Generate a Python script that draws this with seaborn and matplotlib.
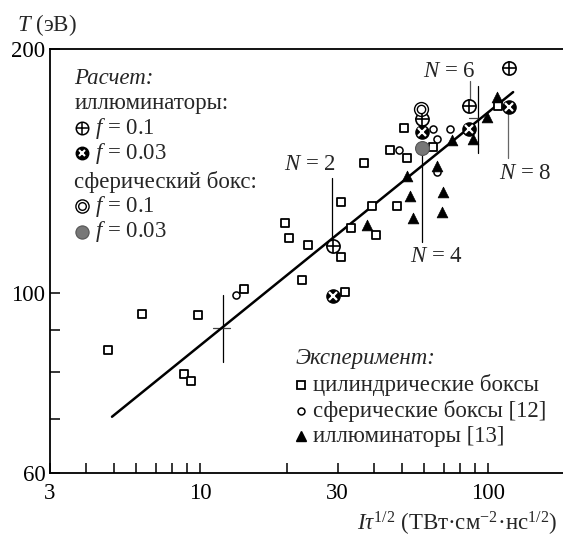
import matplotlib
matplotlib.use("Agg")
import matplotlib.pyplot as plt
import seaborn as sns
import pandas as pd
from matplotlib.ticker import FixedLocator, FixedFormatter, NullFormatter

# ---------------- data ----------------
cyl_x = [4.8, 6.3, 9.8, 8.8, 9.3, 14.2, 19.7, 20.4, 23.7, 22.5, 30.7, 30.7, 31.9,
         33.3, 39.4, 40.6, 37.1, 48.0, 45.7, 52.2, 51.0, 64.3, 108.3]
cyl_y = [85.0, 94.3, 94.1, 79.4, 78.0, 101.2, 122.0, 116.9, 114.7, 103.7, 129.5, 110.7, 100.4,
         120.2, 128.2, 118.1, 144.7, 128.3, 150.4, 146.7, 160.1, 151.4, 170.3]

sph_x = [13.3, 48.8, 64.5, 66.3, 73.8, 66.5]
sph_y = [99.5, 150.4, 159.6, 155.0, 159.6, 141.0]

ill_x = [37.8, 53.3, 54.8, 52.4, 66.2, 69.7, 69.2, 74.7, 88.5, 98.6, 107.5]
ill_y = [121.4, 131.8, 123.7, 139.7, 143.6, 133.5, 125.9, 154.5, 155.0, 164.8, 174.6]

calc_ill_x = [29.0, 58.8, 86.0, 117.5]
calc_ill_f01_y = [114.3, 164.2, 170.0, 189.4]
calc_ill_f003_y = [99.1, 158.0, 159.5, 169.7]

calc_sph_f01_x = [58.6]
calc_sph_f01_y = [168.7]
calc_sph_f003_x = [58.8]
calc_sph_f003_y = [151.0]

fit_x = [4.94, 121.9]
fit_y = [70.4, 177.1]

# N markers
n_lines_x = [28.7, 58.9, 86.3, 117.1]
n_lines_ylo = [114.3, 115.8, 173.5, 146.8]
n_lines_yhi = [138.7, 151.0, 182.7, 167.0]
n_lines_col = ["black", "black", "#555555", "#666666"]
n_labels = ["2", "4", "6", "8"]
n_label_x = [24.1, 66.3, 73.1, 134.6]
n_label_y = [144.1, 110.9, 188.0, 140.7]

# crosses on the fit line
cross_x = [11.95, 92.2]
cross_ylo = [82.2, 148.9]
cross_yhi = [99.4, 180.2]
cross_hy = [90.6, 164.3]
cross_hx0 = [11.1, 86.0]
cross_hx1 = [12.7, 93.3]

x_major = [3, 10, 30, 100]
x_major_labels = ["3", "10", "30", "100"]
x_minor = [4, 5, 6, 7, 8, 9, 20, 40, 50, 60, 70, 80, 90]
y_major = [60, 100, 200]
y_major_labels = ["60", "100", "200"]
y_minor = [70, 80, 90]

# ---------------- style ----------------
sns.set_theme(style="ticks")
plt.rcParams["font.family"] = ["Liberation Serif", "DejaVu Serif"]
plt.rcParams["mathtext.fontset"] = "custom"
plt.rcParams["mathtext.rm"] = "Liberation Serif"
plt.rcParams["mathtext.it"] = "Liberation Serif:italic"
plt.rcParams["mathtext.bf"] = "Liberation Serif:bold"
FS = 16.5

W, H = 563, 539
fig = plt.figure(figsize=(W / 100, H / 100), dpi=100)
fig.patch.set_facecolor("white")
L, R, T, B = 49.6, 563.0, 49.3, 473.0
ax = fig.add_axes([L / W, 1 - B / H, (R - L) / W, (B - T) / H])
ax.set_facecolor("white")

ax.set_xscale("log")
ax.set_yscale("log")
ax.set_xlim(3, 181.6)
ax.set_ylim(60, 200)

# fit line
sns.lineplot(x=fit_x, y=fit_y, color="black", linewidth=1.8, ax=ax, zorder=2)

# N lines and crosses
for x, lo, hi, c in zip(n_lines_x, n_lines_ylo, n_lines_yhi, n_lines_col):
    ax.plot([x, x], [lo, hi], color=c, linewidth=0.9, zorder=1.5)
for x, lo, hi, hy, h0, h1 in zip(cross_x, cross_ylo, cross_yhi, cross_hy, cross_hx0, cross_hx1):
    ax.plot([x, x], [lo, hi], color="black", linewidth=0.9, zorder=1.5)
    ax.plot([h0, h1], [hy, hy], color="#444444", linewidth=0.9, zorder=1.5)
for lab, lx, ly in zip(n_labels, n_label_x, n_label_y):
    ax.text(lx, ly, r"$N$ = " + lab, fontsize=FS, ha="center", va="center")

# experiment
df_cyl = pd.DataFrame({"x": cyl_x, "y": cyl_y})
df_sph = pd.DataFrame({"x": sph_x, "y": sph_y})
df_ill = pd.DataFrame({"x": ill_x, "y": ill_y})
sns.scatterplot(data=df_cyl, x="x", y="y", marker="s", s=38, color="white",
                edgecolor="black", linewidth=1.3, ax=ax, zorder=3)
sns.scatterplot(data=df_sph, x="x", y="y", marker="o", s=26, color="white",
                edgecolor="black", linewidth=1.1, ax=ax, zorder=3)
sns.scatterplot(data=df_ill, x="x", y="y", marker="^", s=60, color="black",
                edgecolor="black", linewidth=0.5, ax=ax, zorder=3)

# calculations
sns.scatterplot(x=calc_ill_x, y=calc_ill_f01_y, marker="o", s=90, color="white",
                edgecolor="black", linewidth=1.2, ax=ax, zorder=4)
ax.plot(calc_ill_x, calc_ill_f01_y, linestyle="none", marker="+", ms=9.5,
        mew=1.2, color="black", zorder=5)
sns.scatterplot(x=calc_ill_x, y=calc_ill_f003_y, marker="o", s=90, color="black",
                edgecolor="black", linewidth=1.0, ax=ax, zorder=4)
ax.plot(calc_ill_x, calc_ill_f003_y, linestyle="none", marker="x", ms=5.5,
        mew=1.6, color="white", zorder=5)
sns.scatterplot(x=calc_sph_f01_x, y=calc_sph_f01_y, marker="o", s=100, color="white",
                edgecolor="black", linewidth=1.0, ax=ax, zorder=4)
ax.plot(calc_sph_f01_x, calc_sph_f01_y, linestyle="none", marker="o", ms=6,
        mfc="white", mec="black", mew=1.0, zorder=5)
sns.scatterplot(x=calc_sph_f003_x, y=calc_sph_f003_y, marker="o", s=100, color="#777777",
                edgecolor="#555555", linewidth=0.8, ax=ax, zorder=4)

# ---------------- axes / ticks ----------------
ax.xaxis.set_major_locator(FixedLocator(x_major))
ax.xaxis.set_major_formatter(FixedFormatter(x_major_labels))
ax.xaxis.set_minor_locator(FixedLocator(x_minor))
ax.xaxis.set_minor_formatter(NullFormatter())
ax.yaxis.set_major_locator(FixedLocator(y_major))
ax.yaxis.set_major_formatter(FixedFormatter(y_major_labels))
ax.yaxis.set_minor_locator(FixedLocator(y_minor))
ax.yaxis.set_minor_formatter(NullFormatter())
ax.tick_params(axis="both", which="both", direction="in", length=7, width=1.1,
               color="black", labelsize=FS, labelcolor="black")
ax.tick_params(axis="x", which="both", pad=7)
ax.tick_params(axis="y", which="both", pad=3)
for s in ["left", "bottom", "top"]:
    ax.spines[s].set_visible(True)
    ax.spines[s].set_color("black")
    ax.spines[s].set_linewidth(1.3)
ax.spines["right"].set_visible(False)
ax.set_xlabel("")
ax.set_ylabel("")

# axis titles
fig.text(17 / W, 1 - 25 / H, r"$T$ (эВ)", fontsize=FS, ha="left", va="center")
fig.text(557 / W, 1 - 524 / H, r"$I\tau^{1/2}$ (ТВт·см$^{-2}$·нс$^{1/2}$)",
         fontsize=FS, ha="right", va="center")

# ---------------- in-plot legends ----------------
def fx(X):
    return (X - L) / (R - L)

def fy(Y):
    return (B - Y) / (B - T)

tr = ax.transAxes
# Calculation block
ax.text(fx(74.4), fy(78.2), "Расчет:", style="italic", fontsize=FS, va="center", transform=tr)
ax.text(fx(74.4), fy(103.1), "иллюминаторы:", fontsize=FS, va="center", transform=tr)
ax.text(fx(74.4), fy(181.6), "сферический бокс:", fontsize=FS, va="center", transform=tr)
mx = fx(81.5)
tx = fx(95.0)
rows = [128.4, 153.3, 206.1, 231.7]
labels = [r"$f$ = 0.1", r"$f$ = 0.03", r"$f$ = 0.1", r"$f$ = 0.03"]
for Y, lab in zip(rows, labels):
    ax.text(tx, fy(Y), lab, fontsize=FS, va="center", transform=tr)
ax.plot([mx], [fy(rows[0])], marker="o", ms=9, mfc="white", mec="black", mew=1.1, transform=tr, clip_on=False)
ax.plot([mx], [fy(rows[0])], marker="+", ms=9, mew=1.1, color="black", transform=tr, clip_on=False)
ax.plot([mx], [fy(rows[1])], marker="o", ms=9, mfc="black", mec="black", transform=tr, clip_on=False)
ax.plot([mx], [fy(rows[1])], marker="x", ms=5, mew=1.5, color="white", transform=tr, clip_on=False)
ax.plot([mx], [fy(rows[2])], marker="o", ms=9.5, mfc="white", mec="black", mew=1.0, transform=tr, clip_on=False)
ax.plot([mx], [fy(rows[2])], marker="o", ms=5.5, mfc="white", mec="black", mew=1.0, transform=tr, clip_on=False)
ax.plot([mx], [fy(rows[3])], marker="o", ms=9.5, mfc="#777777", mec="#555555", mew=0.8, transform=tr, clip_on=False)

# Experiment block
ax.text(fx(295.5), fy(358.5), "Эксперимент:", style="italic", fontsize=FS, va="center", transform=tr)
ex_rows = [385.0, 410.7, 436.2]
ex_labels = ["цилиндрические боксы", "сферические боксы [12]", "иллюминаторы [13]"]
emx = fx(301.2)
etx = fx(313.0)
for Y, lab in zip(ex_rows, ex_labels):
    ax.text(etx, fy(Y), lab, fontsize=FS, va="center", transform=tr)
ax.plot([emx], [fy(ex_rows[0])], marker="s", ms=6, mfc="white", mec="black", mew=1.3, transform=tr)
ax.plot([emx], [fy(ex_rows[1])], marker="o", ms=5, mfc="white", mec="black", mew=1.1, transform=tr)
ax.plot([emx], [fy(ex_rows[2])], marker="^", ms=7.5, mfc="black", mec="black", transform=tr)

fig.savefig("out.png", dpi=100, facecolor="white")
